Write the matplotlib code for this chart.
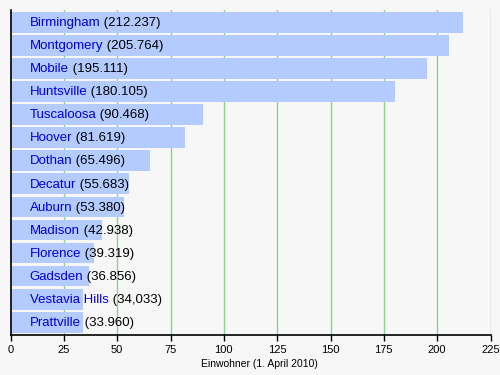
import numpy as np
import matplotlib.pyplot as plt

plt.rcParams['font.family'] = ['Liberation Sans', 'DejaVu Sans']

staedte = ["Birmingham", "Montgomery", "Mobile", "Huntsville", "Tuscaloosa",
           "Hoover", "Dothan", "Decatur", "Auburn", "Madison", "Florence",
           "Gadsden", "Vestavia Hills", "Prattville"]
einwohner = [212.237, 205.764, 195.111, 180.105, 90.468, 81.619, 65.496,
             55.683, 53.380, 42.938, 39.319, 36.856, 34.033, 33.960]
wert_texte = ["212.237", "205.764", "195.111", "180.105", "90.468", "81.619",
              "65.496", "55.683", "53.380", "42.938", "39.319", "36.856",
              "34,033", "33.960"]
x_ticks = [0, 25, 50, 75, 100, 125, 150, 175, 200, 225]

bg = '#f7f7f7'
fig = plt.figure(figsize=(5, 3.75), dpi=100, facecolor=bg)
ax = fig.add_axes([0.021, 0.107, 0.96, 0.867])
ax.set_facecolor(bg)

pos = np.arange(len(staedte))
ax.barh(pos, einwohner, height=0.9, color='#b3cbff', zorder=2)

for xt in x_ticks[1:]:
    ax.axvline(xt, color='#8fd08f', lw=1, zorder=1)

for i, (name, txt) in enumerate(zip(staedte, wert_texte)):
    t = ax.text(9, i + 0.03, name, color='#0000dd', fontsize=9.5, va='center',
                ha='left', zorder=3)
    ax.annotate(" (" + txt + ")", xy=(1, 0), xycoords=t, va='bottom',
                ha='left', fontsize=9.5, color='black', zorder=3)

ax.set_xlim(0, 225)
ax.set_ylim(len(staedte) - 0.45, -0.55)
ax.set_xticks(x_ticks)
ax.set_yticks([])
ax.tick_params(axis='x', labelsize=8, length=4, width=1, pad=3)
for s in ['top', 'right']:
    ax.spines[s].set_visible(False)
ax.spines['left'].set_linewidth(1.2)
ax.spines['bottom'].set_linewidth(1.2)
ax.set_xlabel("Einwohner (1. April 2010)", fontsize=7.5, labelpad=3.5)
ax.xaxis.label.set_x(0.5 + 8.5 / 480)

fig.savefig("out.png", dpi=100, facecolor=bg)
